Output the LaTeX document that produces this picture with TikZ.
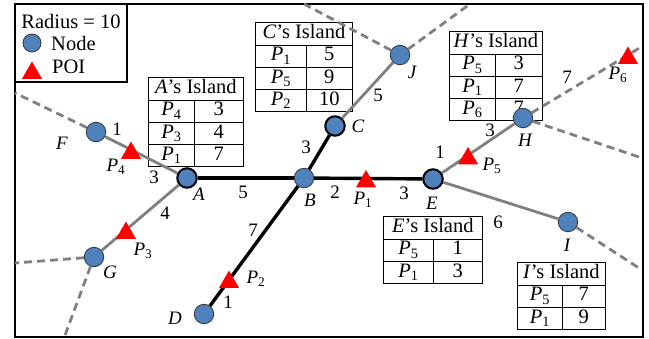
\documentclass[tikz,border=0pt]{standalone}
\usepackage{fontspec}
\setmainfont{Liberation Serif}
\usepackage{array}
\usetikzlibrary{shapes.geometric}
\definecolor{nodeblue}{RGB}{79,129,189}
\definecolor{edgegray}{RGB}{128,128,128}
\newcolumntype{Y}[1]{>{\centering\arraybackslash}p{#1}}
\setlength\tabcolsep{0pt}
\setlength\extrarowheight{2pt}
\setlength\arrayrulewidth{0.8pt}
\newcommand\Pn[1]{\textit{P}\textsubscript{#1}}
% #1 owner, #2/#3 column widths, #4 rows
\newcommand\island[4]{%
  \begin{tabular}{|Y{#2pt}|Y{#3pt}|}\hline
  \multicolumn{2}{|c|}{#1’s Island}\\\hline
  #4
  \end{tabular}}
\tikzset{
  vertex/.style={circle, draw=black!80, fill=nodeblue, minimum size=19.5pt, inner sep=0pt, line width=0.8pt},
  hub/.style={vertex, draw=black, line width=2pt},
  poi/.style={regular polygon, regular polygon sides=3, fill=red, minimum size=23pt, inner sep=0pt, yshift=-3pt},
  road/.style={line width=3.4pt, black},
  link/.style={line width=2.8pt, edgegray},
  far/.style={link, dash pattern=on 8pt off 5pt},
  wt/.style={inner sep=0pt, font=\fontsize{19}{21}\selectfont},
  lbl/.style={wt, font=\fontsize{19}{21}\selectfont\itshape},
  key/.style={inner sep=0pt, font=\fontsize{20.5}{22}\selectfont},
  tbl/.style={anchor=north west, inner sep=0pt, font=\fontsize{20.5}{19.5}\selectfont}
}
\begin{document}
\begin{tikzpicture}[x=1pt, y=-1pt]
   \useasboundingbox (0,0) rectangle (649,338);
   \draw[line width=1.6pt] (15,4) rectangle (643,337);
   % legend
   \draw[line width=1.6pt] (15,82) -| (127,4);
   \node[key] (rad) at (71,21) {Radius = 10};
   \node[vertex, minimum size=18pt] (kn) at (32,43) {};
   \node[key, anchor=west] (kt) at (51,43) {Node};
   \node[poi] (kp) at (32,70) {};
   \node[key, anchor=west] (kq) at (52,67) {POI};
   % islands
   \node[tbl] (ta) at (148,77) {\island{\textit{A}}{45}{48}{\Pn{4} & 3\\\hline \Pn{3} & 4\\\hline \Pn{1} & 7\\\hline}};
   \node[tbl] (tc) at (255,22) {\island{\textit{C}}{50}{45}{\Pn{1} & 5\\\hline \Pn{5} & 9\\\hline \Pn{2} & 10\\\hline}};
   \node[tbl] (th) at (449,31) {\island{\textit{H}}{45}{46}{\Pn{5} & 3\\\hline \Pn{1} & 7\\\hline \Pn{6} & 7\\\hline}};
   \node[tbl] (te) at (383,216) {\island{\textit{E}}{49}{48}{\Pn{5} & 1\\\hline \Pn{1} & 3\\\hline}};
   \node[tbl] (ti) at (517,262) {\island{\textit{I}}{44}{42}{\Pn{5} & 7\\\hline \Pn{1} & 9\\\hline}};
   % nodes
   \foreach \n/\x/\y in {b/304/178, d/204/314, f/96/132, g/94/257, h/523/118, i/568/222, j/400/55}
     \node[vertex] (\n) at (\x,\y) {};
   \foreach \n/\x/\y in {a/187/178, c/335/126, e/433/179}
     \node[hub] (\n) at (\x,\y) {};
   \foreach \n/\x/\y in {f1/15/93, g1/15/263, g2/64/338, j1/304/4, j2/470/4, h1/642/46.5, h2/642/158, i1/642/270}
     \coordinate (\n) at (\x,\y);
   % edges
   \foreach \u/\v in {a/f, a/g, c/j, e/h, e/i}
     \draw[link] (\u) -- (\v);
   \foreach \u/\v in {f/f1, g/g1, g/g2, j/j1, j/j2, h/h1, h/h2, i/i1}
     \draw[far] (\u) -- (\v);
   \foreach \u/\v in {a/b, b/e, b/c, b/d}
     \draw[road] (\u) -- (\v);
   % points of interest
   \foreach \n/\x/\y in {1/366/178.5, 2/229/279, 3/126/230, 4/131/150, 5/468/155.5, 6/628/55}
     \node[poi] (p\n) at (\x,\y) {};
   \foreach \n/\x/\y in {1/363/200, 2/256/279, 3/143/251, 4/116/167, 5/492/166, 6/618/75}
     \node[wt] (lp\n) at (\x,\y) {\Pn{\n}};
   \foreach \t/\x/\y in {A/199/194, B/310/200, C/358/126, D/175/318, E/432/203, F/62/143, G/110/272, H/525/140, I/567/245, J/412/72}
     \node[lbl] (l\t) at (\x,\y) {\t};
   % distances
   \foreach \x/\y/\t [count=\k] in {117/129/1, 154/177/3, 165/213/4, 243/192/5, 306/147/3, 378/95/5, 335/192/2,
       404/193/3, 253/230/7, 228/302/1, 440/152/1, 490/130/3, 567/77/7, 498/222/6}
     \node[wt] (w\k) at (\x,\y) {\t};
\end{tikzpicture}
\end{document}
